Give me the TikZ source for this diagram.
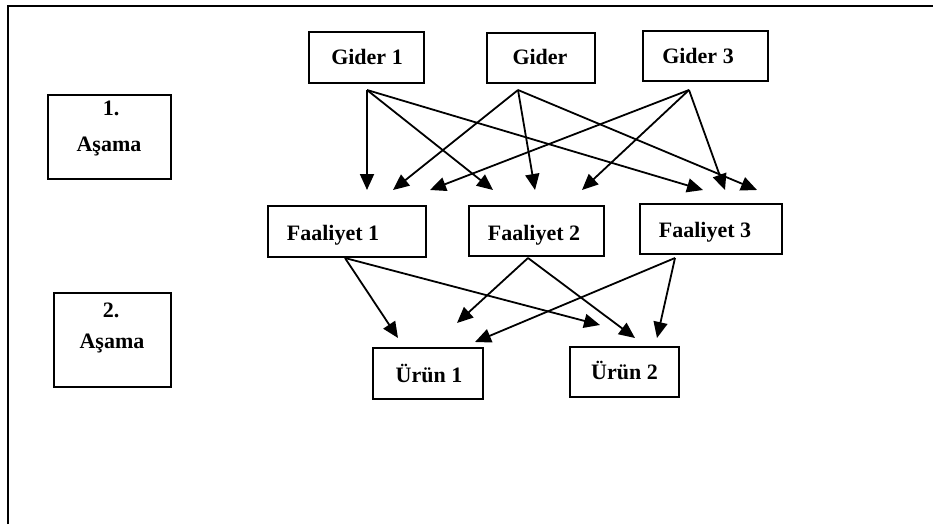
\documentclass[tikz,border=0pt]{standalone}
\usepackage{fontspec}
\setmainfont{Liberation Serif}
\usetikzlibrary{arrows.meta}
\tikzset{
  box/.style={draw=black, line width=2.2pt, fill=none, inner sep=0pt},
  lbl/.style={font=\fontsize{22}{24}\selectfont\bfseries, anchor=base, inner sep=0pt},
  arr/.style={line width=1.8pt, -{Triangle[length=16pt,width=14pt]}},
  frame/.style={line width=2.2pt}
}
\begin{document}
\begin{tikzpicture}[x=1pt,y=-1pt]
\useasboundingbox (0,0) rectangle (933,524);
% outer frame (top and left edges visible)
\coordinate (fa) at (8,524);
\coordinate (fb) at (8,6);
\coordinate (fc) at (933,6);
\draw[frame] (fa) -- (fb) -- (fc);

% stage boxes
\node[box, minimum width=123pt, minimum height=84pt] (s1) at (109.5,137) {};
\node[lbl] (s1a) at (111,115) {1.};
\node[lbl] (s1b) at (109,151) {Aşama};
\node[box, minimum width=117pt, minimum height=94pt] (s2) at (112.5,340) {};
\node[lbl] (s2a) at (111,317) {2.};
\node[lbl] (s2b) at (112,348) {Aşama};

% cost boxes
\node[box, minimum width=115pt, minimum height=51pt] (g1) at (366.5,57.5) {};
\node[lbl] (g1t) at (367,65) {Gider 1};
\node[box, minimum width=108pt, minimum height=50pt] (g2) at (541,58) {};
\node[lbl] (g2t) at (540,65) {Gider};
\node[box, minimum width=125pt, minimum height=50pt] (g3) at (705.5,56) {};
\node[lbl] (g3t) at (698,64) {Gider 3};

% activity boxes
\node[box, minimum width=158pt, minimum height=51pt] (f1) at (347,231.5) {};
\node[lbl] (f1t) at (333,240) {Faaliyet 1};
\node[box, minimum width=135pt, minimum height=50pt] (f2) at (536.5,231) {};
\node[lbl] (f2t) at (534,240) {Faaliyet 2};
\node[box, minimum width=142pt, minimum height=50pt] (f3) at (711,229) {};
\node[lbl] (f3t) at (705,237) {Faaliyet 3};

% product boxes
\node[box, minimum width=110pt, minimum height=51pt] (u1) at (428,373.5) {};
\node[lbl] (u1t) at (429,382) {Ürün 1};
\node[box, minimum width=109pt, minimum height=50pt] (u2) at (624.5,372) {};
\node[lbl] (u2t) at (624.5,379) {Ürün 2};

% arrow start points
\coordinate (g1s) at (367,90);
\coordinate (g2s) at (518,90);
\coordinate (g3s) at (689,90);
\coordinate (f1s) at (345,258);
\coordinate (f2s) at (528,258);
\coordinate (f3s) at (675,258);

% arrow tips above activities
\coordinate (t1) at (367,190);
\coordinate (t2) at (393,190);
\coordinate (t3) at (430,190);
\coordinate (t4) at (493,190);
\coordinate (t5) at (535,190);
\coordinate (t6) at (582,190);
\coordinate (t7) at (703,190);
\coordinate (t8) at (725,190);
\coordinate (t9) at (757,190);

\draw[arr] (g1s) -- (t1);
\draw[arr] (g1s) -- (t4);
\draw[arr] (g1s) -- (t7);
\draw[arr] (g2s) -- (t2);
\draw[arr] (g2s) -- (t5);
\draw[arr] (g2s) -- (t9);
\draw[arr] (g3s) -- (t3);
\draw[arr] (g3s) -- (t6);
\draw[arr] (g3s) -- (t8);

% arrow tips above products
\coordinate (p1) at (398,338);
\coordinate (p2) at (600,325);
\coordinate (p3) at (457,323);
\coordinate (p4) at (635,338);
\coordinate (p5) at (475,342);
\coordinate (p6) at (657,338);

\draw[arr] (f1s) -- (p1);
\draw[arr] (f1s) -- (p2);
\draw[arr] (f2s) -- (p3);
\draw[arr] (f2s) -- (p4);
\draw[arr] (f3s) -- (p5);
\draw[arr] (f3s) -- (p6);
\end{tikzpicture}
\end{document}
